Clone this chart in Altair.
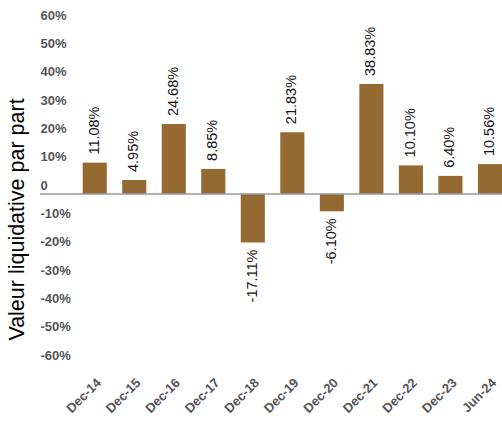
import altair as alt
import pandas as pd

# Annual net asset value performance per unit
periods = ["Dec-14", "Dec-15", "Dec-16", "Dec-17", "Dec-18", "Dec-19",
           "Dec-20", "Dec-21", "Dec-22", "Dec-23", "Jun-24"]
returns = [11.08, 4.95, 24.68, 8.85, -17.11, 21.83, -6.10, 38.83, 10.10, 6.40, 10.56]
y_ticks = [-60, -50, -40, -30, -20, -10, 0, 10, 20, 30, 40, 50, 60]

df = pd.DataFrame({"period": periods, "ret": returns})
df["label"] = [f"{v:.2f}%" for v in returns]

BAR = "#946A32"
FONT = "Liberation Sans"
Y_TITLE = "Valeur liquidative par part"

band = alt.Scale(paddingInner=0.39, paddingOuter=0.54, align=1)
y_scale = alt.Scale(domain=[-60, 60], nice=False)

# One axis definition shared by every layer so the merged axes agree
x_axis = alt.Axis(labelAngle=-45, labelFont=FONT, labelFontSize=13,
                  labelFontWeight="bold", labelColor="#545458",
                  ticks=False, domain=False, labelPadding=12)
y_axis = alt.Axis(values=y_ticks, grid=False, domain=False, ticks=False,
                  labelAlign="left", labelPadding=0, labelOffset=-9,
                  labelOverlap=False,
                  labelExpr="datum.value == 0 ? '0' : datum.value + '%'",
                  labelFont=FONT, labelFontSize=13, labelFontWeight="bold",
                  labelColor="#545458",
                  titleFont=FONT, titleFontSize=21.5, titleFontWeight="normal",
                  titleColor="#000000", titleX=-12, titleY=195)

x_enc = alt.X("period:N", sort=periods, title=None, scale=band, axis=x_axis)
y_enc = alt.Y("ret:Q", scale=y_scale, title=Y_TITLE, axis=y_axis)

bars = alt.Chart(df).mark_bar(color=BAR).encode(x=x_enc, y=y_enc)

zero = alt.Chart(pd.DataFrame({"ret": [0]})).mark_rule(
    color="#9a9a9a", strokeWidth=1.5
).encode(y=y_enc)

pos_labels = alt.Chart(df).transform_filter("datum.ret >= 0").mark_text(
    angle=270, align="left", baseline="middle", dx=8,
    font=FONT, fontSize=14.5, color="#151515",
).encode(x=x_enc, y=y_enc, text="label:N")

neg_labels = alt.Chart(df).transform_filter("datum.ret < 0").mark_text(
    angle=270, align="right", baseline="middle", dx=-7,
    font=FONT, fontSize=14.5, color="#151515",
).encode(x=x_enc, y=y_enc, text="label:N")

chart = alt.layer(bars, zero, pos_labels, neg_labels).properties(
    width=462, height=340,
    background="white",
    autosize=alt.AutoSizeParams(type="none"),
    padding={"left": 40, "top": 24, "right": 0, "bottom": 60},
).configure_view(strokeWidth=0)

chart.save("out.html", embed_options={"renderer": "svg", "actions": False})
